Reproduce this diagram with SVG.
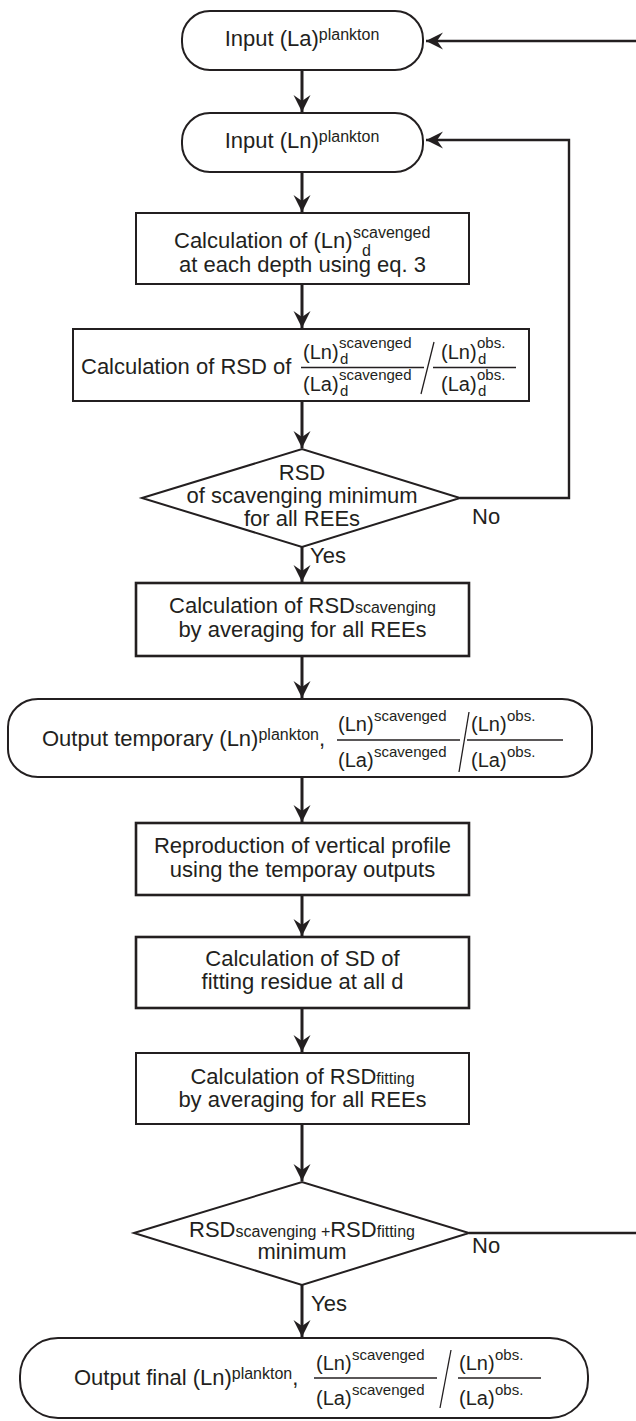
<svg xmlns="http://www.w3.org/2000/svg" width="636" height="1421" viewBox="0 0 636 1421">
<style>
text{font-family:"Liberation Sans",Arial,Helvetica,sans-serif;fill:#231f20}
.t{font-size:22px}
.f{font-size:20px}
.s{font-size:15px}
.ss{font-size:16px}
.box{fill:#fff;stroke:#231f20;stroke-width:2}
.bx{fill:#fff;stroke:#231f20;stroke-width:2.6}
.c{fill:none;stroke:#231f20;stroke-width:3}
.cl{fill:none;stroke:#231f20;stroke-width:2.4}
.bar{stroke:#231f20;stroke-width:1.3}
.m{text-anchor:middle}
</style>
<defs>
<marker id="ah" viewBox="-18 -10 20 20" refX="0" refY="0" markerWidth="20" markerHeight="20" markerUnits="userSpaceOnUse" orient="auto">
<path d="M0,0 L-17,-8.5 L-11,0 L-17,8.5 Z" fill="#231f20"/>
</marker>
</defs>
<rect width="636" height="1421" fill="#fff"/>

<g id="connectors">
<line class="cl" x1="636" y1="41" x2="426" y2="41" marker-end="url(#ah)"/>
<line class="c" x1="302" y1="70" x2="302" y2="112" marker-end="url(#ah)"/>
<line class="c" x1="302" y1="172" x2="302" y2="212" marker-end="url(#ah)"/>
<line class="c" x1="302" y1="284" x2="302" y2="328" marker-end="url(#ah)"/>
<line class="c" x1="302" y1="401" x2="302" y2="448" marker-end="url(#ah)"/>
<polyline class="cl" points="460,498 569,498 569,140 426,140" marker-end="url(#ah)"/>
<line class="c" x1="302" y1="547" x2="302" y2="582" marker-end="url(#ah)"/>
<line class="c" x1="302" y1="656" x2="302" y2="698" marker-end="url(#ah)"/>
<line class="c" x1="302" y1="777" x2="302" y2="822" marker-end="url(#ah)"/>
<line class="c" x1="302" y1="895" x2="302" y2="936" marker-end="url(#ah)"/>
<line class="c" x1="302" y1="1008" x2="302" y2="1052" marker-end="url(#ah)"/>
<line class="c" x1="302" y1="1124" x2="302" y2="1181" marker-end="url(#ah)"/>
<line class="cl" x1="469" y1="1233" x2="636" y2="1233"/>
<line class="c" x1="302" y1="1285" x2="302" y2="1337" marker-end="url(#ah)"/>
<text class="t" x="472" y="524">No</text>
<text class="t" x="310" y="563">Yes</text>
<text class="t" x="472" y="1253">No</text>
<text class="t" x="311" y="1311">Yes</text>
</g>

<g id="n1">
<rect class="box" x="182" y="11" width="241" height="59" rx="28"/>
<text class="t m" x="302" y="46">Input (La)<tspan class="ss" dy="-6">plankton</tspan></text>
</g>

<g id="n2">
<rect class="box" x="182" y="113" width="241" height="59" rx="28"/>
<text class="t m" x="302" y="148">Input (Ln)<tspan class="ss" dy="-6">plankton</tspan></text>
</g>

<g id="n3">
<rect class="box" x="136" y="213" width="333" height="71"/>
<text class="t" x="174" y="248">Calculation of (Ln)</text>
<text class="ss" x="353" y="238">scavenged</text>
<text class="ss" x="362" y="256">d</text>
<text class="t m" x="302.5" y="272">at each depth using eq. 3</text>
</g>

<g id="n4">
<rect class="box" x="73" y="329" width="456" height="72"/>
<text class="t" x="81" y="374">Calculation of RSD of</text>
<text class="f" x="303" y="359">(Ln)</text>
<text class="s" x="339" y="348">scavenged</text>
<text class="s" x="340" y="364">d</text>
<line class="bar" x1="301" y1="367.5" x2="424" y2="367.5"/>
<text class="f" x="303" y="391">(La)</text>
<text class="s" x="339" y="380">scavenged</text>
<text class="s" x="340" y="396">d</text>
<line class="bar" x1="434" y1="342" x2="421" y2="394"/>
<text class="f" x="441" y="359">(Ln)</text>
<text class="s" x="477" y="348">obs.</text>
<text class="s" x="478" y="364">d</text>
<line class="bar" x1="433" y1="367.5" x2="516" y2="367.5"/>
<text class="f" x="441" y="391">(La)</text>
<text class="s" x="477" y="380">obs.</text>
<text class="s" x="478" y="396">d</text>
</g>

<g id="n5">
<polygon class="box" points="142,498 302,449 460,498 302,547"/>
<text class="t m" x="302" y="480">RSD</text>
<text class="t m" x="302" y="503">of scavenging minimum</text>
<text class="t m" x="302" y="526">for all REEs</text>
</g>

<g id="n6">
<rect class="bx" x="136" y="583" width="333" height="73"/>
<text class="t m" x="302.5" y="613">Calculation of RSD<tspan class="ss">scavenging</tspan></text>
<text class="t m" x="302.5" y="637">by averaging for all REEs</text>
</g>

<g id="n7">
<rect class="box" x="8" y="699" width="584" height="78" rx="30" ry="28"/>
<text class="t" x="42" y="746">Output temporary (Ln)<tspan class="ss" dy="-6">plankton</tspan><tspan dy="6">,</tspan></text>
<text class="f" x="338" y="731">(Ln)</text>
<text class="s" x="374" y="721">scavenged</text>
<line class="bar" x1="337" y1="740" x2="460" y2="740"/>
<text class="f" x="338" y="767">(La)</text>
<text class="s" x="374" y="757">scavenged</text>
<line class="bar" x1="469" y1="712" x2="459" y2="772"/>
<text class="f" x="471" y="731">(Ln)</text>
<text class="s" x="507" y="721">obs.</text>
<line class="bar" x1="467" y1="740" x2="563" y2="740"/>
<text class="f" x="471" y="767">(La)</text>
<text class="s" x="507" y="757">obs.</text>
</g>

<g id="n8">
<rect class="bx" x="136" y="823" width="333" height="72"/>
<text class="t m" x="302.5" y="853">Reproduction of vertical profile</text>
<text class="t m" x="302.5" y="877">using the temporay outputs</text>
</g>

<g id="n9">
<rect class="bx" x="136" y="937" width="333" height="71"/>
<text class="t m" x="302.5" y="966">Calculation of SD of</text>
<text class="t m" x="302.5" y="989">fitting residue at all d</text>
</g>

<g id="n10">
<rect class="box" x="136" y="1053" width="333" height="71"/>
<text class="t m" x="302.5" y="1084">Calculation of RSD<tspan class="ss">fitting</tspan></text>
<text class="t m" x="302.5" y="1107">by averaging for all REEs</text>
</g>

<g id="n11">
<polygon class="box" points="134,1233 302,1182 469,1233 302,1285"/>
<text class="t m" x="302" y="1237">RSD<tspan class="ss">scavenging +</tspan>RSD<tspan class="ss">fitting</tspan></text>
<text class="t m" x="302" y="1259">minimum</text>
</g>

<g id="n12">
<rect class="box" x="20" y="1338" width="568" height="80" rx="38"/>
<text class="t" x="74" y="1385">Output final (Ln)<tspan class="ss" dy="-6">plankton</tspan><tspan dy="6">,</tspan></text>
<text class="f" x="316" y="1370">(Ln)</text>
<text class="s" x="352" y="1360">scavenged</text>
<line class="bar" x1="314" y1="1378" x2="437" y2="1378"/>
<text class="f" x="316" y="1405">(La)</text>
<text class="s" x="352" y="1395">scavenged</text>
<line class="bar" x1="451" y1="1350" x2="440" y2="1408"/>
<text class="f" x="459" y="1370">(Ln)</text>
<text class="s" x="495" y="1360">obs.</text>
<line class="bar" x1="458" y1="1378" x2="541" y2="1378"/>
<text class="f" x="459" y="1405">(La)</text>
<text class="s" x="495" y="1395">obs.</text>
</g>
</svg>
